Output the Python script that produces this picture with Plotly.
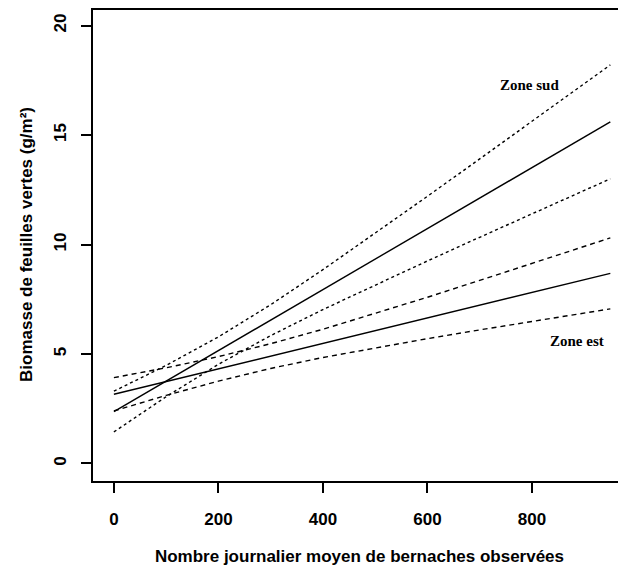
import plotly.graph_objects as go

# Data
x_pts = [0, 100, 200, 300, 400, 500, 600, 700, 800, 900, 950]

sud_fit = [2.37, 3.76, 5.16, 6.55, 7.94, 9.33, 10.73, 12.12, 13.51, 14.90, 15.60]
sud_upper = [3.30, 4.48, 5.78, 7.25, 8.85, 10.52, 12.20, 13.91, 15.62, 17.34, 18.20]
sud_lower = [1.44, 3.05, 4.53, 5.84, 7.03, 8.15, 9.25, 10.33, 11.40, 12.47, 13.00]

est_fit = [3.16, 3.74, 4.32, 4.90, 5.48, 6.07, 6.65, 7.23, 7.81, 8.39, 8.68]
est_upper = [3.92, 4.37, 4.88, 5.47, 6.13, 6.85, 7.59, 8.36, 9.13, 9.91, 10.30]
est_lower = [2.40, 3.11, 3.76, 4.34, 4.84, 5.28, 5.70, 6.10, 6.49, 6.87, 7.06]

x_ticks = [0, 200, 400, 600, 800]
y_ticks = [0, 5, 10, 15, 20]

labels = ["Zone sud", "Zone est"]
label_pos = [(796, 17.28), (886, 5.59)]

fig = go.Figure()

def add_line(y, dash):
    fig.add_trace(go.Scatter(x=x_pts, y=y, mode="lines",
                             line=dict(color="black", width=1.4, dash=dash),
                             showlegend=False, hoverinfo="skip"))

add_line(sud_fit, "solid")
add_line(sud_upper, "3px,3px")
add_line(sud_lower, "3px,3px")
add_line(est_fit, "solid")
add_line(est_upper, "5px,4px")
add_line(est_lower, "5px,4px")

for txt, (ax, ay) in zip(labels, label_pos):
    fig.add_annotation(x=ax, y=ay, text="<b>" + txt + "</b>", showarrow=False,
                       font=dict(family="Liberation Serif, Times New Roman, serif",
                                 size=15, color="black"),
                       xanchor="center", yanchor="middle")

# top frame line (the right side of the box is cut off in the reference)
fig.add_shape(type="line", xref="paper", yref="paper", x0=0, x1=1, y0=0.998, y1=0.998,
              layer="above", line=dict(color="black", width=2))

axis_font = dict(family="Liberation Sans, Arial, sans-serif", size=17, color="black",
                 weight="bold")

# the page's default 8px body margin offsets the figure, so it is sized to compensate
fig.update_layout(
    width=618, height=561,
    margin=dict(l=85, r=0, t=0, b=88),
    paper_bgcolor="white", plot_bgcolor="white",
    xaxis=dict(range=[-40, 980], tickvals=x_ticks, ticktext=[str(v) for v in x_ticks],
               showgrid=False, zeroline=False, showline=True, linecolor="black",
               linewidth=2, ticks="outside", ticklen=10, tickwidth=2, tickcolor="black",
               tickfont=axis_font, ticklabelstandoff=12, automargin=False,
               title=dict(text="Nombre journalier moyen de bernaches observées",
                          font=axis_font, standoff=22)),
    yaxis=dict(range=[-0.8, 20.8], tickvals=y_ticks, ticktext=[str(v) for v in y_ticks],
               showgrid=False, zeroline=False, showline=True, linecolor="black",
               linewidth=2, ticks="outside", ticklen=10, tickwidth=2, tickcolor="black",
               tickfont=axis_font, tickangle=-90, ticklabelstandoff=8, automargin=False,
               title=dict(text="Biomasse de feuilles vertes (g/m²)",
                          font=axis_font, standoff=14)),
)

fig.write_html("out.html", config={"displayModeBar": False})
